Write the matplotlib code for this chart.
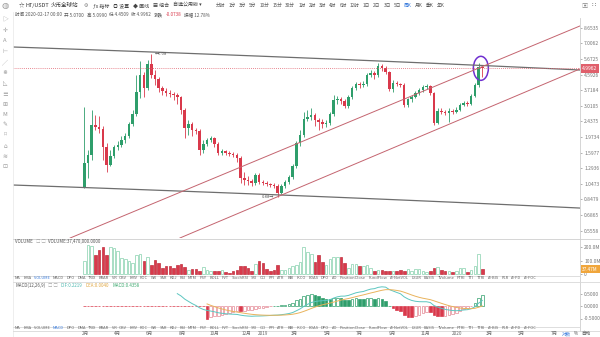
import numpy as np
import pandas as pd
import matplotlib
matplotlib.use('Agg')
import matplotlib.pyplot as plt
from matplotlib.patches import Ellipse
from matplotlib.lines import Line2D
from matplotlib.ticker import NullLocator
from matplotlib.transforms import IdentityTransform

plt.rcParams['font.family'] = ['Noto Sans CJK SC', 'DejaVu Sans']

# --- weekly HT/USDT candles ---
last_date = '2020-02-17'
opens = [1.00, 1.39, 1.55, 2.33, 2.26, 2.20, 1.73, 1.35, 1.53, 1.73,
         1.77, 1.90, 2.00, 2.36, 2.70, 3.64, 4.58, 3.84, 5.31, 4.58,
         4.33, 3.84, 3.69, 3.59, 3.54, 3.49, 3.40, 2.85, 2.23, 2.36,
         2.17, 2.14, 1.66, 1.80, 1.90, 1.95, 1.80, 1.59, 1.64, 1.59,
         1.57, 1.55, 1.49, 1.13, 1.10, 1.09, 1.06, 1.18, 1.07, 1.06,
         1.05, 1.03, 1.02, 0.93, 1.02, 1.07, 1.15, 1.34, 1.82, 2.03,
         2.52, 2.59, 2.66, 2.49, 2.42, 2.36, 2.39, 2.70, 3.26, 3.30,
         3.22, 3.01, 3.40, 3.84, 4.05, 4.00, 4.05, 4.58, 4.71, 4.58,
         5.17, 5.03, 4.77, 3.79, 4.10, 4.05, 4.00, 3.05, 3.30, 3.40,
         3.59, 3.74, 3.89, 3.94, 3.59, 2.39, 2.81, 2.77, 2.74, 2.81,
         2.77, 2.85, 3.05, 3.13, 3.09, 3.44, 4.00, 5.07]
highs = [2.97, 1.66, 2.85, 2.66, 2.63, 2.29, 1.82, 1.66, 1.77, 1.87,
         2.00, 2.09, 2.42, 2.85, 4.58, 5.53, 4.77, 5.61, 6.08, 4.90,
         4.45, 3.94, 3.84, 3.74, 3.64, 3.59, 3.44, 2.93, 2.49, 2.42,
         2.23, 2.20, 1.90, 1.95, 2.00, 1.97, 1.85, 1.68, 1.66, 1.64,
         1.61, 1.59, 1.53, 1.23, 1.17, 1.12, 1.21, 1.21, 1.10, 1.09,
         1.06, 1.06, 1.05, 1.05, 1.10, 1.18, 1.37, 1.87, 2.17, 2.77,
         2.85, 2.93, 2.74, 2.56, 2.52, 2.49, 2.77, 3.49, 3.44, 3.40,
         3.30, 3.49, 3.94, 4.16, 4.16, 4.22, 4.71, 4.90, 4.83, 5.38,
         5.31, 5.17, 4.83, 4.28, 4.22, 4.10, 4.10, 3.35, 3.49, 3.69,
         3.84, 4.00, 4.05, 4.00, 3.64, 2.93, 2.93, 2.85, 2.93, 2.89,
         2.97, 3.13, 3.22, 3.22, 3.54, 4.10, 5.38, 5.099]
lows = [0.99, 1.13, 1.45, 2.17, 2.09, 1.45, 1.23, 1.34, 1.49, 1.66,
        1.73, 1.82, 1.95, 2.29, 2.63, 3.35, 3.40, 3.74, 4.39, 4.00,
        3.64, 3.49, 3.44, 3.40, 3.26, 3.09, 2.70, 1.95, 2.03, 2.00,
        2.06, 1.55, 1.59, 1.75, 1.85, 1.73, 1.55, 1.55, 1.55, 1.53,
        1.51, 1.41, 1.06, 1.03, 1.03, 1.02, 1.03, 1.05, 1.03, 1.02,
        1.00, 0.99, 0.88, 0.91, 0.99, 1.05, 1.12, 1.30, 1.75, 1.98,
        2.45, 2.49, 2.29, 2.17, 2.23, 2.26, 2.33, 2.63, 3.09, 3.09,
        2.93, 2.93, 3.30, 3.74, 3.84, 3.89, 3.94, 4.45, 4.33, 4.45,
        4.83, 4.64, 3.69, 3.64, 3.94, 3.89, 2.97, 2.97, 3.18, 3.35,
        3.49, 3.64, 3.79, 3.49, 2.33, 2.36, 2.70, 2.66, 2.42, 2.70,
        2.74, 2.81, 3.01, 3.01, 3.05, 3.40, 3.89, 4.4509]
closes = [1.39, 1.55, 2.33, 2.26, 2.20, 1.73, 1.35, 1.53, 1.73, 1.77,
          1.90, 2.00, 2.36, 2.70, 3.64, 4.58, 3.84, 5.31, 4.58, 4.33,
          3.84, 3.69, 3.59, 3.54, 3.49, 3.40, 2.85, 2.23, 2.36, 2.17,
          2.14, 1.66, 1.80, 1.90, 1.95, 1.80, 1.59, 1.64, 1.59, 1.57,
          1.55, 1.49, 1.13, 1.10, 1.09, 1.06, 1.18, 1.07, 1.06, 1.05,
          1.03, 1.02, 0.93, 1.02, 1.07, 1.15, 1.34, 1.82, 2.03, 2.52,
          2.59, 2.66, 2.49, 2.42, 2.36, 2.39, 2.70, 3.26, 3.30, 3.22,
          3.01, 3.40, 3.84, 4.05, 4.00, 4.05, 4.58, 4.71, 4.58, 5.17,
          5.03, 4.77, 3.79, 4.10, 4.05, 4.00, 3.05, 3.30, 3.40, 3.59,
          3.74, 3.89, 3.94, 3.59, 2.39, 2.81, 2.77, 2.74, 2.81, 2.77,
          2.85, 3.05, 3.13, 3.09, 3.44, 4.00, 5.07, 4.9962]
# volume in millions
volumes = [94, 217, 205, 143, 180, 200, 143, 200, 193, 168,
           119, 111, 94, 86, 143, 150, 99, 126, 64, 106,
           81, 49, 57, 57, 49, 69, 74, 52, 32, 37,
           37, 27, 52, 32, 27, 25, 20, 32, 15, 12,
           20, 32, 62, 57, 44, 25, 77, 94, 81, 37,
           27, 32, 69, 32, 32, 44, 57, 69, 89, 200,
           160, 150, 89, 143, 89, 69, 111, 124, 126, 126,
           81, 44, 74, 77, 57, 57, 64, 49, 25, 32,
           32, 27, 27, 25, 20, 32, 27, 40, 27, 40,
           40, 27, 15, 20, 44, 52, 32, 27, 20, 15,
           27, 44, 49, 15, 32, 57, 150, 37.47]

# drawn lines (bar index, price)
resist_line = [(-19.2, 6.667), (133.2, 4.884)]
support_line = [(-19.2, 1.031), (133.2, 0.755)]
chan_upper = [(-3.8, 0.5035), (133.2, 8.854)]
chan_lower = [(25.7, 0.5035), (133.2, 4.951)]

price_ticks = [0.5558, 0.6865, 0.8479, 1.0473, 1.2936, 1.5977, 1.9734,
               2.4375, 3.0105, 3.7184, 4.5926, 5.6725, 7.0062, 8.6535]
vol_ticks = [0, 100, 200]
vol_tick_labels = ['0', '100.0M', '200.0M']
macd_ticks = [-0.5, 0.0, 0.5]

month_ticks = ['2018-02-01', '2018-04-01', '2018-06-01', '2018-08-01', '2018-10-01',
               '2018-12-01', '2019-01-01', '2019-03-01', '2019-05-01', '2019-07-01',
               '2019-09-01', '2019-11-01', '2020-01-01', '2020-03-01', '2020-05-01',
               '2020-07-01']
month_labels = ['2月', '4月', '6月', '8月', '10月', '12月', '2019', '3月', '5月',
                '7月', '9月', '11月', '2020', '3月', '5月', '7月']

periods = ['分时', '1分', '3分', '5分', '10分', '15分', '30分', '1时', '2时', '3时', '4时',
           '6时', '12时', '1日', '2日', '3日', '5日', '周K', '月K', '季K', '年K']
indicators = ['MA', 'EMA', 'VOLUME', 'MACD', 'DPO', 'DMA', 'TRIX', 'BRAR', 'VR', 'OBV',
              'EMV', 'ROC', 'WR', 'SAR', 'KDJ', 'RSI', 'MTM', 'PSY', 'BOLL', 'PVT',
              'StochRSI', 'SRI', 'CCI', 'PPI', 'ATR', 'BBI', 'IKCO', 'EDAS', 'DPO', 'AO',
              'PositionClose', 'FundFlow', 'AI-NetVOL', 'LSUR', 'BASIS', 'TVolume',
              'PTRI', 'TTI', 'TTRI', 'AI-BIS', 'PLR', 'AI-PD', 'AI-FOC']

W, H = 600, 337
GREEN, RED = '#2e9e6b', '#d9394b'
SEP = '#d8d8d8'

n = len(closes)
x = np.arange(n)
dates = pd.date_range(end=last_date, periods=n, freq='7D')
o, h, l, c = map(np.array, (opens, highs, lows, closes))
up = c >= o

# candle 0 sits at 84.3 px, 3.72 px per week, panes run 13..580 px
x0_px, bar_px = 84.3, 3.72
xlim = ((13 - x0_px) / bar_px, (580 - x0_px) / bar_px)

fig = plt.figure(figsize=(W / 100, H / 100), dpi=100)
fig.patch.set_facecolor('white')


def rect(left, top, right, bottom):
    return [left / W, 1 - bottom / H, (right - left) / W, (bottom - top) / H]


def ptext(px, py, s, **kw):
    kw.setdefault('va', 'center')
    return fig.text(px / W, 1 - py / H, s, **kw)


def hline(py, x1, x2, color=SEP, lw=0.6):
    fig.add_artist(Line2D([x1 / W, x2 / W], [1 - py / H, 1 - py / H], color=color, lw=lw))


def vline(px, y1, y2, color=SEP, lw=0.6):
    fig.add_artist(Line2D([px / W, px / W], [1 - y1 / H, 1 - y2 / H], color=color, lw=lw))


renderer = fig.canvas.get_renderer()


def seq(px, py, items, size, gap):
    for s, colr in items:
        t = ptext(px, py, s, fontsize=size, color=colr, ha='left')
        px = t.get_window_extent(renderer=renderer).x1 + gap
    return px


ax = fig.add_axes(rect(13, 18, 580, 238))
axv = fig.add_axes(rect(13, 239, 580, 275))
axm = fig.add_axes(rect(13, 283, 580, 326))
for a in (ax, axv, axm):
    a.set_xlim(*xlim)
    a.set_xticks([])
    for s in a.spines.values():
        s.set_visible(False)
    a.yaxis.tick_right()
    a.tick_params(axis='y', labelsize=3.6, colors='#777777', length=1.5, width=0.4, pad=1.5)

# --- price pane ---
cols = np.where(up, GREEN, RED)
ax.vlines(x, l, h, colors=cols, lw=0.6)
lo = np.minimum(o, c)
hi = np.maximum(np.maximum(o, c), lo * 1.007)
ax.bar(x, hi - lo, bottom=lo, width=0.68, color=cols, linewidth=0)
ax.set_yscale('log')
ax.set_ylim(0.5035, 9.868)
ax.yaxis.set_minor_locator(NullLocator())
ax.set_yticks(price_ticks)
ax.set_yticklabels([f'{v:.4f}' for v in price_ticks])

for line in (resist_line, support_line):
    xs = np.linspace(line[0][0], line[1][0], 80)
    ax.plot(xs, np.interp(xs, [line[0][0], line[1][0]], [line[0][1], line[1][1]]),
            color='#6e6e6e', lw=0.9)
for line in (chan_upper, chan_lower):
    ax.plot([line[0][0], line[1][0]], [line[0][1], line[1][1]], color='#c4646f', lw=0.7)

ax.axhline(c[-1], color='#e0606c', lw=0.6, ls=(0, (1, 1.5)))

i_hi = int(np.argmax(h))
ax.text(i_hi + 0.9, h[i_hi], f'\u2190{h[i_hi]:.2f}', fontsize=3, color='#555555', va='center')
i_lo = int(np.argmin(l))
ax.text(i_lo - 0.9, l[i_lo], f'{l[i_lo]:.2f}\u2192', fontsize=3, color='#555555',
        va='center', ha='right')

cx, cy = ax.transData.transform((n - 1.4, c[-1]))
ax.add_patch(Ellipse((cx, cy), 15, 24, transform=IdentityTransform(), fill=False,
                     ec='#7030d0', lw=1.1))

ax.text(1.004, c[-1], f'{c[-1]:.4f}', transform=ax.get_yaxis_transform(), fontsize=3.6,
        color='white', va='center', ha='left', clip_on=False,
        bbox=dict(boxstyle='square,pad=0.35', fc='#e0606c', ec='none'))

# --- volume pane ---
vface = np.where(up, 'white', RED)
vedge = np.where(up, '#86d0ad', '#c0303f')
axv.bar(x, volumes, width=0.7, color=vface, edgecolor=vedge, linewidth=0.5)
axv.set_ylim(-6, 259)
axv.set_yticks(vol_ticks)
axv.set_yticklabels(vol_tick_labels)
axv.text(1.004, volumes[-1], f'{volumes[-1]:.2f}M', transform=axv.get_yaxis_transform(),
         fontsize=3.4, color='white', va='center', ha='left', clip_on=False,
         bbox=dict(boxstyle='square,pad=0.35', fc='#f0a63c', ec='none'))

# --- MACD pane ---
cs = pd.Series(closes)
dif = cs.ewm(span=12, adjust=False).mean() - cs.ewm(span=26, adjust=False).mean()
dea = dif.ewm(span=9, adjust=False).mean()
hist = 2 * (dif - dea)
dif[:25] = np.nan
dea[:33] = np.nan
hist[:33] = np.nan
rising = hist > hist.shift(1)
pos = hist >= 0
face = np.where(pos, np.where(rising, 'white', GREEN), np.where(rising, 'white', RED))
edge = np.where(pos, GREEN, np.where(rising, '#e48a96', RED))
axm.bar(x, hist.fillna(0), width=0.7, color=face, edgecolor=edge, linewidth=0.5)
axm.plot(x, dif, color='#5cc6c0', lw=0.7)
axm.plot(x, dea, color='#e9b35c', lw=0.7)
axm.set_ylim(-0.80, 0.92)
axm.set_yticks(macd_ticks)
axm.set_yticklabels([f'{v:.4f}' for v in macd_ticks])

# --- frame lines ---
vline(13, 12, 337, color='#ebebeb')
vline(580, 18, 331, color='#cfcfcf')
hline(238.5, 13, 600, color='#cfcfcf')
hline(275.5, 13, 580)
hline(281.5, 13, 600)
hline(326.5, 13, 580)
hline(330.5, 13, 600)

# --- toolbar and headers ---
ptext(5, 5.5, '\u25cd', fontsize=6, color='#9a9a9a', ha='center')
seq(19, 5.5, [('\u2606', '#555555'), ('HT/USDT', '#333333'), ('火币全球站', '#333333')], 4, 1.5)
seq(84, 5.5, [('\u2699', '#777777'), ('\u0192x 指标', '#444444'), ('\u25ce 设置', '#444444'),
              ('\u25c6 画线', '#444444'), ('\u25a6 组合', '#444444'),
              ('自选公用版 \u25be', '#444444')], 3.6, 4)
seq(216, 5.5, [(p, '#3b7ddd' if p == '周K' else '#555555') for p in periods], 3.4, 3)
ptext(584, 5.5, '\u25a3', fontsize=4.5, color='#888888', ha='center')
ptext(594, 5.5, '\u2237', fontsize=5, color='#666666', ha='center', family=['DejaVu Sans'])

info = [('时间 ' + dates[-1].strftime('%Y-%m-%d') + ' 00:00', '#555555'),
        (f'开 {o[-1]:.4f}', '#555555'), (f'高 {h[-1]:.4f}', '#555555'),
        (f'低 {l[-1]:.4f}', '#555555'), (f'收 {c[-1]:.4f}', '#555555'),
        ('涨跌', '#555555'), (f'{c[-1] - o[-1]:.4f}', RED),
        (f'振幅 {(h[-1] - l[-1]) / o[-1] * 100:.2f}%', '#555555')]
seq(15, 15, info, 3.3, 2.5)

icons = ['\u25b7', '\u271b', 'A', '\u22a2', '\u2571', '\u22c7', '\u25fa', '\u2261',
         '\u229e', 'M', '\u270e', '\u2311', '\u2302', '\u224b', '\u22a1']
for k, g in enumerate(icons):
    ptext(5, 20 + k * 10.5, g, fontsize=4.2, color='#9a9a9a', ha='center')

seq(15, 241.5, [('VOLUME', '#555555'), ('\u25a1 \u25a1', '#aaaaaa'),
                (f'VOLUME:{volumes[-1] * 1e6:,.4f}', '#555555')], 3.2, 3)
seq(15, 285.5, [('MACD(12,26,9)', '#555555'), ('\u25a1 \u25a1', '#aaaaaa'),
                (f'DIF:{dif.iloc[-1]:.4f}', '#4fb8b0'), (f'DEA:{dea.iloc[-1]:.4f}', '#e0a640'),
                (f'MACD:{hist.iloc[-1]:.4f}', '#3aa76d')], 3.2, 3)

seq(15, 278.2, [(t, '#3b7ddd' if t == 'VOLUME' else '#666666') for t in indicators], 2.9, 2.6)
seq(15, 328.4, [(t, '#3b7ddd' if t == 'MACD' else '#666666') for t in indicators], 2.9, 2.6)

# --- date axis ---
for m, lab in zip(month_ticks, month_labels):
    idx = (pd.Timestamp(m) - dates[0]).days / 7
    px = ax.transData.transform((idx, 1))[0]
    if 13 < px < 578:
        ptext(px, 333.5, lab, fontsize=3.3, color='#666666', ha='center')
seq(562, 333.5, [('对数', '#3b7ddd'), ('%', '#555555'), ('自动', '#555555')], 3.3, 3)

fig.savefig('out.png', dpi=100, facecolor='white')
